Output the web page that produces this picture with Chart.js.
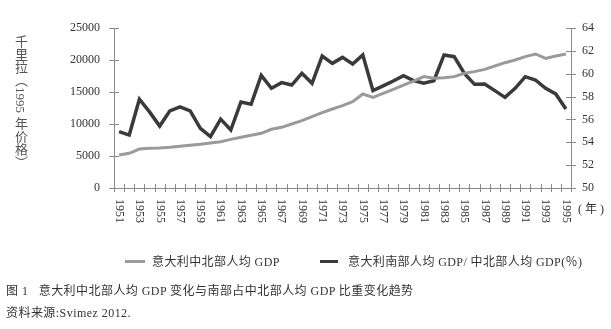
<!DOCTYPE html>
<html>
<head>
<meta charset="utf-8">
<script src="https://cdn.jsdelivr.net/npm/chart.js@4"></script>
<style>
  html, body { margin: 0; padding: 0; background: #fff; }
  #wrap { position: relative; width: 611px; height: 329px; font-family: "Liberation Serif", "Noto Sans CJK SC", serif; color: #333; }
  #chart { position: absolute; left: 0; top: 0; }
  .ytitle { position: absolute; left: 13px; top: 35px; writing-mode: vertical-rl; text-orientation: mixed; font-size: 13px; color: #555; line-height: 14px; }
  .legend { position: absolute; top: 254px; font-size: 12px; line-height: 16px; white-space: nowrap; letter-spacing: 0.4px; }
  .swatch { position: absolute; height: 3px; top: 260px; }
  .caption { position: absolute; left: 6px; font-size: 12px; white-space: nowrap; color: #333; letter-spacing: 0.45px; }
</style>
</head>
<body>
<div id="wrap">
  <canvas id="chart" width="611" height="329"></canvas>
  <div class="ytitle">千里拉（1995 年价格）</div>
  <div class="swatch" style="left:125px;width:20px;background:#9a9a9a"></div>
  <div class="legend" style="left:152px">意大利中北部人均 GDP</div>
  <div class="swatch" style="left:320px;width:18px;background:#3a3a3a"></div>
  <div class="legend" style="left:348px">意大利南部人均 GDP/ 中北部人均 GDP(％)</div>
  <div class="caption" style="top:281px">图 1&nbsp;&nbsp;&nbsp;意大利中北部人均 GDP 变化与南部占中北部人均 GDP 比重变化趋势</div>
  <div class="caption" style="top:303px">资料来源:Svimez 2012.</div>
</div>
<script>
// years on the x axis
const years = ['1951','1952','1953','1954','1955','1956','1957','1958','1959','1960',
  '1961','1962','1963','1964','1965','1966','1967','1968','1969','1970',
  '1971','1972','1973','1974','1975','1976','1977','1978','1979','1980',
  '1981','1982','1983','1984','1985','1986','1987','1988','1989','1990',
  '1991','1992','1993','1994','1995'];

// centre-north GDP per head, thousand lire (1995 prices)
const northGdp = [5150, 5420, 6090, 6200, 6250, 6350, 6510, 6670, 6820, 7030,
  7240, 7600, 7920, 8230, 8540, 9170, 9480, 10000, 10520, 11150,
  11770, 12340, 12870, 13490, 14690, 14170, 14790, 15420, 16090, 16700,
  17400, 17140, 17240, 17400, 17920, 18180, 18540, 19060, 19580, 20000,
  20520, 20940, 20260, 20630, 20940];

// south GDP per head as % of centre-north
const southRatio = [54.93, 54.63, 57.77, 56.66, 55.42, 56.75, 57.10, 56.75, 55.22, 54.49,
  56.03, 55.07, 57.53, 57.33, 59.85, 58.72, 59.22, 59.01, 60.03, 59.16,
  61.55, 60.91, 61.43, 60.85, 61.64, 58.52, 58.93, 59.36, 59.83, 59.40,
  59.16, 59.39, 61.64, 61.49, 60.03, 59.07, 59.10, 58.52, 57.93, 58.72,
  59.74, 59.45, 58.72, 58.23, 56.91];

const leftTicks = { min: 0, max: 25000, step: 5000 };
const rightTicks = { min: 50, max: 64, step: 2 };

const AXIS = '#8a8a8a';
const FONT = { family: '"Liberation Serif", "Noto Sans CJK SC", serif', size: 12 };

// small cross ticks on all three axes, plus rotated year labels
const axisMarks = {
  id: 'axisMarks',
  afterDraw(chart) {
    const { ctx, chartArea, scales } = chart;
    const x = scales.x, yl = scales.y, yr = scales.y1;
    ctx.save();
    ctx.strokeStyle = AXIS;
    ctx.lineWidth = 1;
    ctx.beginPath();
    yl.ticks.forEach(t => {
      const py = Math.round(yl.getPixelForValue(t.value)) + 0.5;
      ctx.moveTo(chartArea.left - 5, py); ctx.lineTo(chartArea.left + 5, py);
    });
    yr.ticks.forEach(t => {
      const py = Math.round(yr.getPixelForValue(t.value)) + 0.5;
      ctx.moveTo(chartArea.right - 5, py); ctx.lineTo(chartArea.right + 5, py);
    });
    const step = x.getPixelForValue(1) - x.getPixelForValue(0);
    for (let i = 0; i <= years.length; i++) {
      const px = Math.round(x.getPixelForValue(i) - step / 2) + 0.5;
      ctx.moveTo(px, chartArea.bottom - 4); ctx.lineTo(px, chartArea.bottom + 4);
    }
    ctx.stroke();

    ctx.fillStyle = '#333';
    ctx.font = '12px ' + FONT.family;
    ctx.textAlign = 'left';
    ctx.textBaseline = 'middle';
    years.forEach((yr, i) => {
      if (i % 2) return;
      ctx.save();
      ctx.translate(x.getPixelForValue(i), chartArea.bottom + 11);
      ctx.rotate(Math.PI / 2);
      ctx.fillText(yr, 0, 0);
      ctx.restore();
    });
    ctx.fillText('( 年 )', chartArea.right + 7, chartArea.bottom + 22);
    ctx.restore();
  }
};

new Chart(document.getElementById('chart'), {
  type: 'line',
  data: {
    labels: years,
    datasets: [
      { label: '意大利中北部人均 GDP', data: northGdp, yAxisID: 'y',
        borderColor: '#9a9a9a', borderWidth: 3, pointRadius: 0, tension: 0 },
      { label: '意大利南部人均 GDP/ 中北部人均 GDP(%)', data: southRatio, yAxisID: 'y1',
        borderColor: '#3a3a3a', borderWidth: 3.5, pointRadius: 0, tension: 0 }
    ]
  },
  options: {
    responsive: false,
    animation: false,
    layout: { padding: { left: 0, right: 0, top: 28, bottom: 101 } },
    plugins: { legend: { display: false }, tooltip: { enabled: false } },
    scales: {
      x: {
        offset: true,
        grid: { display: false, drawTicks: false },
        border: { display: true, color: AXIS, width: 1 },
        ticks: { display: false },
        afterFit: s => { s.height = 40; }
      },
      y: {
        position: 'left',
        min: leftTicks.min, max: leftTicks.max,
        grid: { display: false, drawTicks: false },
        border: { display: true, color: AXIS, width: 1 },
        ticks: { stepSize: leftTicks.step, padding: 14, color: '#333', font: FONT,
          callback: v => String(v) },
        afterFit: s => { s.width = 114; }
      },
      y1: {
        position: 'right',
        min: rightTicks.min, max: rightTicks.max,
        grid: { display: false, drawTicks: false },
        border: { display: true, color: AXIS, width: 1 },
        ticks: { stepSize: rightTicks.step, padding: 11, color: '#333', font: FONT,
          callback: v => String(v) },
        afterFit: s => { s.width = 40; }
      }
    }
  },
  plugins: [axisMarks]
});
</script>
</body>
</html>
